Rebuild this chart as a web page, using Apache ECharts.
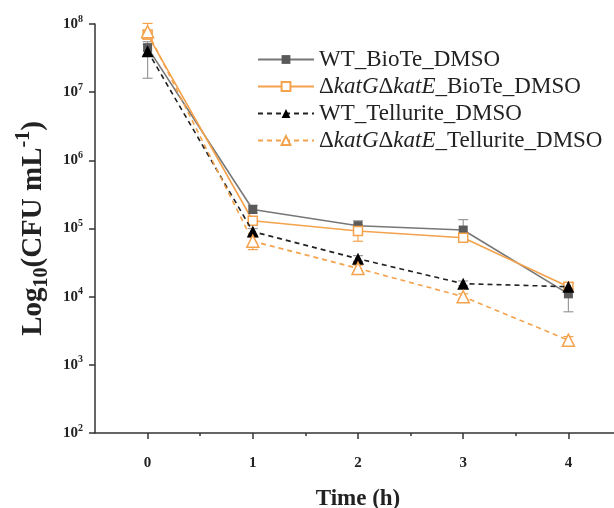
<!DOCTYPE html>
<html>
<head>
<meta charset="utf-8">
<script src="https://cdn.jsdelivr.net/npm/echarts@6/dist/echarts.min.js"></script>
<style>
  html, body { margin: 0; padding: 0; background: #fff; }
  #chart { width: 614px; height: 508px; }
</style>
</head>
<body>
<div id="chart"></div>
<script>
// time points (h)
const times = [0, 1, 2, 3, 4];
const yTickExps = [2, 3, 4, 5, 6, 7, 8];

const seriesNames = [
    "WT_BioTe_DMSO",
    "ΔkatGΔkatE_BioTe_DMSO",
    "WT_Tellurite_DMSO",
    "ΔkatGΔkatE_Tellurite_DMSO"
];

// CFU/mL
const wtBioTe = [4.5e7, 1.9e5, 1.1e5, 9.5e4, 1.1e4];
const mutBioTe = [7.0e7, 1.3e5, 9.2e4, 7.3e4, 1.4e4];
const wtTellurite = [4.0e7, 9.0e4, 3.6e4, 1.55e4, 1.4e4];
const mutTellurite = [7.7e7, 6.5e4, 2.6e4, 1.0e4, 2.3e3];

// error bar ends
const wtBioTeLow = [3.5e7, 1.7e5, 1.0e5, 8.0e4, 6.0e3];
const wtBioTeHigh = [5.5e7, 2.2e5, 1.3e5, 1.35e5, 1.6e4];
const mutBioTeLow = [6.0e7, 1.15e5, 6.5e4, 6.5e4, 1.25e4];
const mutBioTeHigh = [8.0e7, 1.45e5, 1.15e5, 8.5e4, 1.6e4];
const wtTelluriteLow = [1.6e7, 8.0e4, 3.3e4, 1.45e4, 1.3e4];
const wtTelluriteHigh = [5.0e7, 1.0e5, 4.0e4, 1.7e4, 1.55e4];
const mutTelluriteLow = [6.5e7, 4.9e4, 2.4e4, 9.3e3, 2.1e3];
const mutTelluriteHigh = [1.02e8, 7.5e4, 2.9e4, 1.1e4, 2.6e3];

const ORANGE = "#f4a24c";
const GREY = "#5a5a5a";
const SERIF = "'Liberation Serif', 'DejaVu Serif', serif";

const chart = echarts.init(document.getElementById("chart"));

const pairs = arr => times.map((t, i) => [t, arr[i]]);
const errPairs = (lo, hi) => times.map((t, i) => [t, lo[i], hi[i]]);

// vertical error bar with caps
const errorBar = color => (params, api) => {
    const x = api.value(0);
    const pLo = api.coord([x, api.value(1)]);
    const pHi = api.coord([x, api.value(2)]);
    const w = 5;
    const style = { stroke: color, lineWidth: 1.2 };
    return {
        type: "group",
        children: [
            { type: "line", shape: { x1: pLo[0], y1: pLo[1], x2: pHi[0], y2: pHi[1] }, style },
            { type: "line", shape: { x1: pLo[0] - w, y1: pLo[1], x2: pLo[0] + w, y2: pLo[1] }, style },
            { type: "line", shape: { x1: pHi[0] - w, y1: pHi[1], x2: pHi[0] + w, y2: pHi[1] }, style }
        ]
    };
};

const errSeries = (lo, hi, color) => ({
    type: "custom",
    renderItem: errorBar(color),
    data: errPairs(lo, hi),
    encode: { x: 0, y: [1, 2] },
    z: 1,
    silent: true
});

const legendFormatter = name =>
    name.replace("katG", "{it|katG}").replace("katE", "{it|katE}");

const option = {
    animation: false,
    backgroundColor: "#fff",
    grid: { left: 95, right: -7, top: 24, bottom: 75, outerBoundsMode: "none", containLabel: false },
    legend: {
        data: seriesNames,
        orient: "vertical",
        left: 252,
        top: 43,
        itemWidth: 56,
        itemHeight: 11,
        itemGap: 4,
        formatter: legendFormatter,
        textStyle: {
            fontFamily: SERIF,
            fontSize: 23,
            color: "#222",
            lineHeight: 23,
            rich: {
                it: { fontFamily: SERIF, fontSize: 23, fontStyle: "italic", color: "#222" }
            }
        }
    },
    xAxis: [
        {
            type: "value",
            min: -0.5,
            max: 4.5,
            name: "Time (h)",
            nameLocation: "middle",
            nameGap: 55,
            nameTextStyle: { fontFamily: SERIF, fontSize: 23, fontWeight: "bold", color: "#222" },
            axisLine: { onZero: false, lineStyle: { color: "#333", width: 1.5 } },
            axisTick: { customValues: times, length: 6, inside: false, lineStyle: { color: "#333", width: 1.5 } },
            axisLabel: {
                customValues: times,
                fontFamily: SERIF,
                fontSize: 15,
                fontWeight: "bold",
                color: "#222",
                margin: 23
            },
            splitLine: { show: false }
        },
        {
            type: "value",
            min: -0.5,
            max: 4.5,
            position: "bottom",
            axisLine: { show: false, onZero: false },
            axisTick: { customValues: [0.5, 1.5, 2.5, 3.5], length: 3, lineStyle: { color: "#333", width: 1.5 } },
            axisLabel: { show: false },
            splitLine: { show: false }
        }
    ],
    yAxis: {
        type: "log",
        logBase: 10,
        min: 100,
        max: 1e8,
        name: "{a|Log}{sub|10}{a|(CFU mL}{sup|-1}{a|)}",
        nameLocation: "middle",
        nameGap: 42,
        nameTextStyle: {
            fontFamily: SERIF,
            fontSize: 29,
            fontWeight: "bold",
            color: "#222",
            rich: {
                a: { fontFamily: SERIF, fontSize: 29, fontWeight: "bold", color: "#222", lineHeight: 38 },
                sub: { fontFamily: SERIF, fontSize: 20, fontWeight: "bold", color: "#222", lineHeight: 22, verticalAlign: "bottom" },
                sup: { fontFamily: SERIF, fontSize: 20, fontWeight: "bold", color: "#222", lineHeight: 22, verticalAlign: "top" }
            }
        },
        axisLine: { show: true, onZero: false, lineStyle: { color: "#333", width: 1.5 } },
        axisTick: { show: true, length: 6, lineStyle: { color: "#333", width: 1.5 } },
        axisLabel: {
            fontFamily: SERIF,
            fontSize: 15,
            fontWeight: "bold",
            color: "#222",
            margin: 12,
            formatter: v => {
                const e = Math.round(Math.log10(v));
                return yTickExps.includes(e) ? "{b|10}{sup|" + e + "}" : "";
            },
            rich: {
                b: { fontFamily: SERIF, fontSize: 15, fontWeight: "bold", color: "#222", lineHeight: 20 },
                sup: { fontFamily: SERIF, fontSize: 10, fontWeight: "bold", color: "#222", lineHeight: 12, verticalAlign: "top" }
            }
        },
        splitLine: { show: false }
    },
    series: [
        errSeries(wtBioTeLow, wtBioTeHigh, "#9a9a9a"),
        errSeries(mutBioTeLow, mutBioTeHigh, ORANGE),
        errSeries(wtTelluriteLow, wtTelluriteHigh, "#9a9a9a"),
        errSeries(mutTelluriteLow, mutTelluriteHigh, ORANGE),
        {
            name: seriesNames[0],
            type: "line",
            data: pairs(wtBioTe),
            symbol: "rect",
            symbolSize: 9,
            itemStyle: { color: GREY },
            lineStyle: { color: "#777", width: 1.6 },
            z: 3
        },
        {
            name: seriesNames[1],
            type: "line",
            data: pairs(mutBioTe),
            symbol: "rect",
            symbolSize: 9,
            itemStyle: { color: "#fff", borderColor: ORANGE, borderWidth: 1.5 },
            lineStyle: { color: ORANGE, width: 1.6 },
            z: 3
        },
        {
            name: seriesNames[2],
            type: "line",
            data: pairs(wtTellurite),
            symbol: "triangle",
            symbolSize: 12,
            itemStyle: { color: "#000" },
            lineStyle: { color: "#222", width: 1.6, type: [5, 4] },
            z: 4
        },
        {
            name: seriesNames[3],
            type: "line",
            data: pairs(mutTellurite),
            symbol: "triangle",
            symbolSize: 12,
            itemStyle: { color: "#fff", borderColor: ORANGE, borderWidth: 1.5 },
            lineStyle: { color: ORANGE, width: 1.6, type: [5, 4] },
            z: 4
        }
    ]
};

chart.setOption(option);
</script>
</body>
</html>
